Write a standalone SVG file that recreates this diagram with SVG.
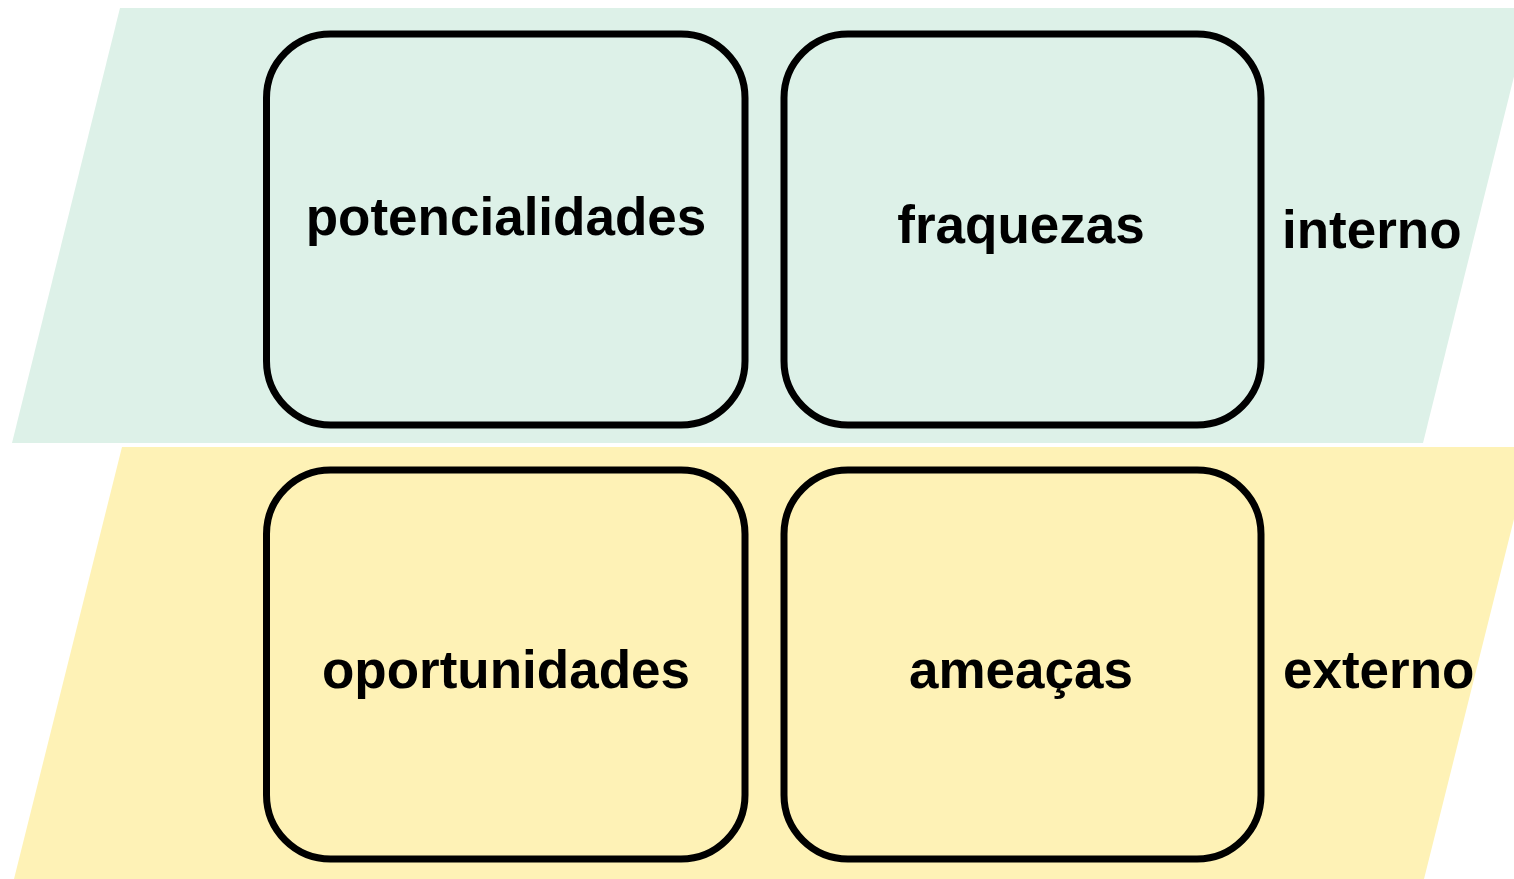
<svg xmlns="http://www.w3.org/2000/svg" width="1514" height="879" viewBox="0 0 1514 879">
<style>
.band-int{fill:#DDF1E8}
.band-ext{fill:#FEF2B6}
.box{stroke:#000;stroke-width:7;}
.int .box{fill:#DDF1E8}
.ext .box{fill:#FEF2B6}
text{font-family:"Liberation Sans",Arial,sans-serif;font-weight:bold;font-size:53px;fill:#000}
.c{text-anchor:middle}
</style>
<g id="bands">
<polygon class="band-int" points="120,8 1531,8 1423,443 12,443"/>
<polygon class="band-ext" points="122,447 1532,447 1424,879 14,879"/>
</g>
<g id="node-potencialidades" class="int">
<rect class="box" x="266.5" y="34" width="478.5" height="391" rx="64" ry="64"/>
<text class="c" x="506" y="235">potencialidades</text>
</g>
<g id="node-fraquezas" class="int">
<rect class="box" x="784" y="34" width="477" height="391" rx="64" ry="64"/>
<text class="c" x="1021" y="243">fraquezas</text>
</g>
<g id="node-oportunidades" class="ext">
<rect class="box" x="266.5" y="470" width="478.5" height="389" rx="64" ry="64"/>
<text class="c" x="506" y="688">oportunidades</text>
</g>
<g id="node-ameacas" class="ext">
<rect class="box" x="784" y="470" width="477" height="389" rx="64" ry="64"/>
<text class="c" x="1021" y="688">ameaças</text>
</g>
<g id="label-interno"><text x="1282" y="248">interno</text></g>
<g id="label-externo"><text x="1283" y="688">externo</text></g>
<g id="connectors"></g>
</svg>
